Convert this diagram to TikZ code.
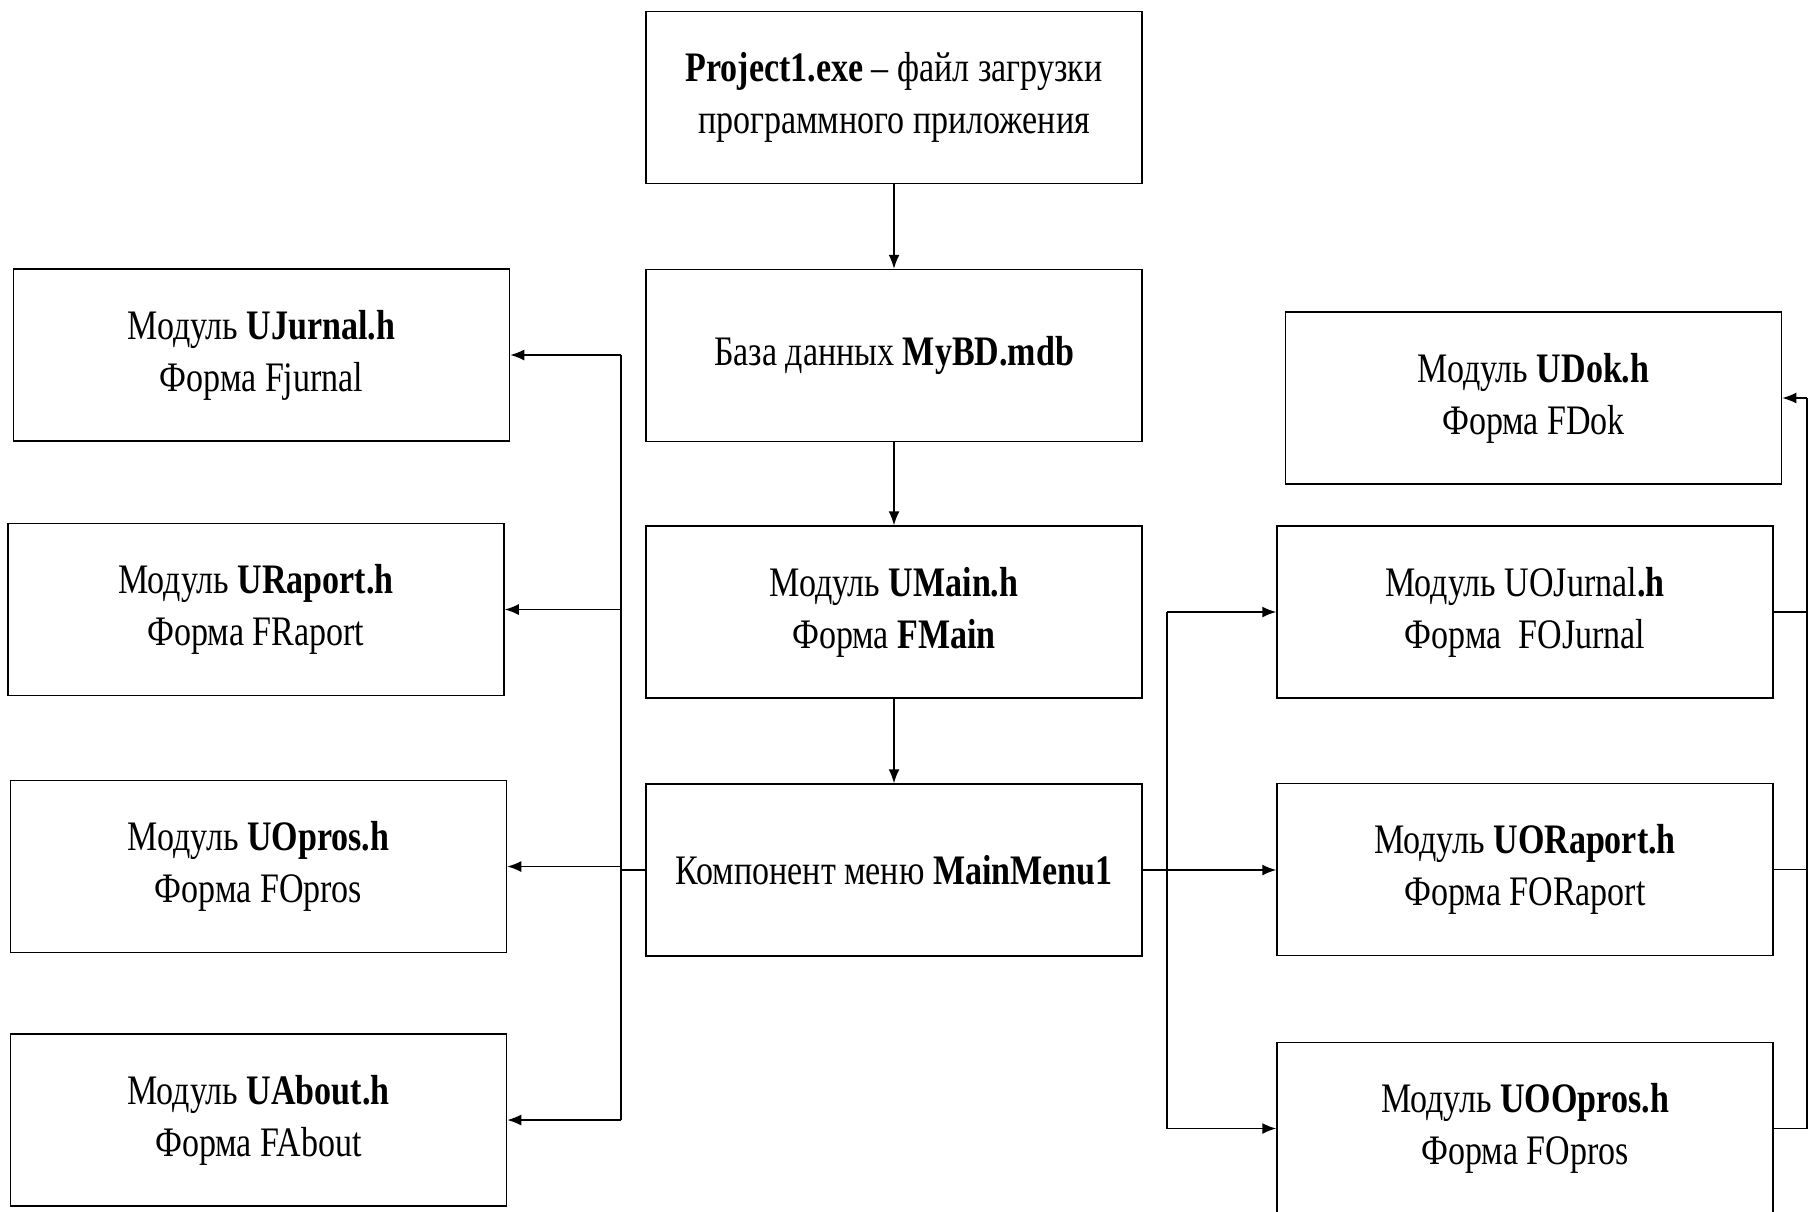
\documentclass[tikz,border=0pt]{standalone}
\usepackage{fontspec}
\setmainfont[FakeStretch=0.81]{Liberation Serif}
\usetikzlibrary{arrows.meta}
\begin{document}
\begin{tikzpicture}[x=0.5pt,y=-0.5pt,
  box/.style={draw, line width=0.75pt, minimum width=248pt, minimum height=86pt,
    inner sep=0pt, align=center, font=\fontsize{21}{26}\selectfont},
  ln/.style={line width=0.75pt},
  arr/.style={line width=0.75pt, -{Latex[length=7pt,width=5.5pt]}}]
\useasboundingbox (0,0) rectangle (1814,1211);
\clip (0,0) rectangle (1814,1211);
% central column
\node[box] (proj) at (894,97.5) {\textbf{Project1.exe} – файл загрузки\\программного приложения};
\node[box] (mybd) at (894,355.5) {База данных \textbf{MyBD.mdb}};
\node[box] (umain) at (894,612) {Модуль \textbf{UMain.h}\\Форма \textbf{FMain}};
\node[box] (menu) at (894,870) {Компонент меню \textbf{MainMenu1}};
% left column
\node[box] (ujurnal) at (261.5,355) {Модуль \textbf{UJurnal.h}\\Форма Fjurnal};
\node[box] (uraport) at (256,609.5) {Модуль \textbf{URaport.h}\\Форма FRaport};
\node[box] (uopros) at (258.5,866.5) {Модуль \textbf{UOpros.h}\\Форма FOpros};
\node[box] (uabout) at (258.5,1120) {Модуль \textbf{UAbout.h}\\Форма FAbout};
% right column
\node[box] (udok) at (1533.5,398) {Модуль \textbf{UDok.h}\\Форма FDok};
\node[box] (uojurnal) at (1525,612) {Модуль UOJurnal\textbf{.h}\\Форма\ \ FOJurnal};
\node[box] (uoraport) at (1525,869.5) {Модуль \textbf{UORaport.h}\\Форма FORaport};
\node[box] (uoopros) at (1525,1128.5) {Модуль \textbf{UOOpros.h}\\Форма FOpros};
% bus coordinates
\coordinate (busL) at (621,0);
\coordinate (busM) at (1167,0);
\coordinate (busR) at (1807,0);
% central arrows
\draw[arr] (proj.south) -- (mybd.north);
\draw[arr] (mybd.south) -- (umain.north);
\draw[arr] (umain.south) -- (menu.north);
% left bus
\draw[ln] (menu.west) -- (menu.west -| busL);
\draw[ln] (busL |- ujurnal.east) -- (busL |- uabout.east);
\draw[arr] (busL |- ujurnal.east) -- (ujurnal.east);
\draw[arr] (busL |- uraport.east) -- (uraport.east);
\draw[arr] (busL |- uopros.east) -- (uopros.east);
\draw[arr] (busL |- uabout.east) -- (uabout.east);
% middle-right bus
\draw[arr] (menu.east) -- (menu.east -| uoraport.west);
\draw[ln] (busM |- uojurnal.west) -- (busM |- uoopros.west);
\draw[arr] (busM |- uojurnal.west) -- (uojurnal.west);
\draw[arr] (busM |- uoopros.west) -- (uoopros.west);
% far right bus
\draw[ln] (uojurnal.east) -- (uojurnal.east -| busR);
\draw[ln] (uoraport.east) -- (uoraport.east -| busR);
\draw[ln] (uoopros.east) -- (uoopros.east -| busR);
\draw[ln] (busR |- uoopros.east) -- (busR |- udok.east);
\draw[arr] (busR |- udok.east) -- (udok.east);
\end{tikzpicture}
\end{document}
